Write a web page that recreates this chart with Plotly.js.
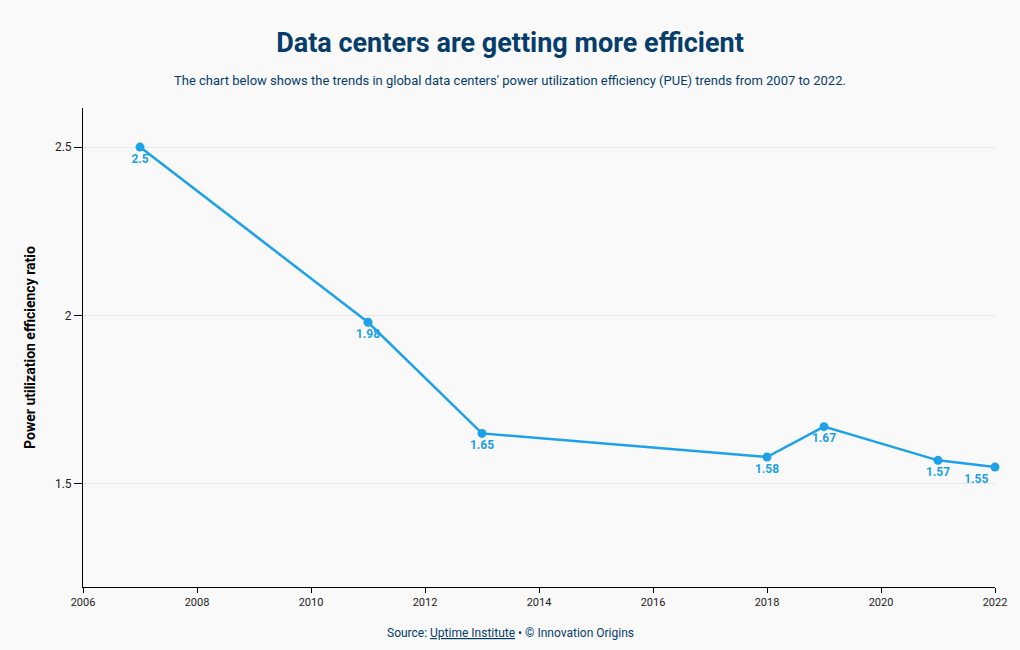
<!DOCTYPE html>
<html><head><meta charset="utf-8">
<script src="https://cdn.plot.ly/plotly-3.0.1.min.js"></script>
<style>body{margin:0;background:#f9f9f9}#chart{width:1020px;height:650px}</style>
</head><body><div id="chart"></div>
<script>
const years = [2007, 2011, 2013, 2018, 2019, 2021, 2022];
const pue = [2.5, 1.98, 1.65, 1.58, 1.67, 1.57, 1.55];
const labels = ['2.5', '1.98', '1.65', '1.58', '1.67', '1.57', '1.55'];
const labelPos = ['bottom center', 'bottom center', 'bottom center', 'bottom center', 'bottom center', 'bottom center', 'bottom left'];
const xTicks = [2006, 2008, 2010, 2012, 2014, 2016, 2018, 2020, 2022];
const yTicks = [1.5, 2, 2.5];
const yTickText = ['1.5', '2', '2.5'];

const font = 'Roboto, "Open Sans", sans-serif';
const trace = {
  x: years, y: pue, text: labels, type: 'scatter', mode: 'lines+markers+text',
  line: {color: '#1da1e8', width: 2.5},
  marker: {color: '#1da1e8', size: 9},
  textposition: labelPos,
  textfont: {family: font, size: 12, color: '#1da1e8', weight: 'bold'},
  cliponaxis: false, hoverinfo: 'x+y'
};
const layout = {
  width: 1020, height: 650,
  paper_bgcolor: '#f9f9f9', plot_bgcolor: '#f9f9f9',
  margin: {l: 83, r: 25, t: 108, b: 63},
  showlegend: false,
  title: {text: '<b>Data centers are getting more efficient</b>', x: 0.5, xanchor: 'center', y: 0.935, yanchor: 'middle',
    font: {family: font, size: 27, color: '#063d6b'}},
  xaxis: {range: [2006, 2022], tickvals: xTicks, ticktext: xTicks.map(String), showgrid: false, zeroline: false,
    showline: true, linecolor: '#000', linewidth: 1, ticks: 'outside', ticklen: 5, tickcolor: '#000',
    tickfont: {family: font, size: 11, color: '#222'}},
  yaxis: {range: [1.194, 2.616], tickvals: yTicks, ticktext: yTickText, showgrid: true, gridcolor: '#e8e8e8', zeroline: false,
    showline: true, linecolor: '#000', linewidth: 1, ticks: 'outside', ticklen: 8, tickcolor: '#000',
    tickfont: {family: font, size: 12, color: '#222'},
    title: {text: '<b>Power utilization efficiency ratio</b>', standoff: 16, font: {family: font, size: 14, color: '#000'}}},
  annotations: [
    {text: "The chart below shows the trends in global data centers' power utilization efficiency (PUE) trends from 2007 to 2022.",
     xref: 'paper', yref: 'paper', x: 0.5, y: 1, yshift: 28, xanchor: 'center', yanchor: 'middle', showarrow: false,
     font: {family: font, size: 13, color: '#063d6b'}, xshift: -29},
    {text: 'Source: <span style="text-decoration:underline">Uptime Institute</span> • © Innovation Origins',
     xref: 'paper', yref: 'paper', x: 0.5, y: 0, yshift: -46, xanchor: 'center', yanchor: 'middle', showarrow: false,
     font: {family: font, size: 12, color: '#063d6b'}, xshift: -29}
  ]
};
Plotly.newPlot('chart', [trace], layout, {displayModeBar: false});
</script></body></html>
